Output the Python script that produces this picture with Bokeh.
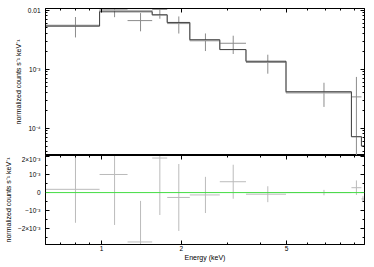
import numpy as np
from bokeh.plotting import figure
from bokeh.layouts import column
from bokeh.models import Range1d, FixedTicker, LogAxis, LinearAxis, CustomJSTickFormatter, Span
from bokeh.embed import file_html
from bokeh.resources import INLINE

# ---------------- data ----------------
# data bins (keV)
bin_lo = [0.614, 0.983, 1.254, 1.554, 1.771, 2.156, 2.799, 3.515, 4.98, 8.80]
bin_hi = [0.983, 1.254, 1.554, 1.771, 2.156, 2.799, 3.515, 4.98, 8.80, 9.60]
bin_ctr = [0.797, 1.12, 1.404, 1.661, 1.959, 2.47, 3.145, 4.25, 6.93, 9.19]
# normalized counts s^-1 keV^-1
counts = [5.55e-3, 1.04e-2, 6.65e-3, 1.03e-2, 5.92e-3, 3.03e-3, 2.75e-3, 1.30e-3, 4.1e-4, 3.4e-4]
counts_err = [2.1e-3, 2.8e-3, 2.27e-3, 3.15e-3, 1.9e-3, 1.0e-3, 0.94e-3, 0.46e-3, 1.8e-4, 4.0e-4]

# model steps
model_edges = [0.614, 0.983, 1.554, 1.771, 2.156, 2.799, 3.515, 4.98, 8.80, 9.60, 9.86]
model_a = [5.37e-3, 9.38e-3, 8.36e-3, 6.19e-3, 3.16e-3, 2.15e-3, 1.365e-3, 4.15e-4, 7.2e-5, 5.0e-5]
model_b = [5.37e-3, 9.9e-3, 8.2e-3, 6.1e-3, 3.06e-3, 2.15e-3, 1.34e-3, 3.95e-4, 7.2e-5, 5.0e-5]

# residuals
res_lo = bin_lo + [9.60]
res_hi = bin_hi + [9.86]
res_ctr = bin_ctr + [9.73]
resid = [0.18e-3, 1.0e-3, -2.73e-3, 1.91e-3, -0.27e-3, -0.13e-3, 0.6e-3, -0.09e-3, 0.0, 0.27e-3, -0.35e-3]
resid_err = [1.85e-3, 2.79e-3, 2.27e-3, 3.15e-3, 1.85e-3, 1.0e-3, 0.94e-3, 0.44e-3, 0.15e-3, 0.4e-3, 0.15e-3]

x_ticks = [1, 2, 5]
x_minor = [0.7, 0.8, 0.9, 3, 4, 6, 7, 8, 9]
y_ticks_top = [1e-4, 1e-3, 1e-2]
y_labels_top = {1e-4: "10\u207b\u2074", 1e-3: "10\u207b\u00b3", 1e-2: "0.01"}
y_ticks_res = [-2e-3, -1e-3, 0, 1e-3, 2e-3]
y_labels_res = {-2e-3: "\u22122\u00d710\u207b\u00b3", -1e-3: "\u221210\u207b\u00b3", 0: "0",
                1e-3: "10\u207b\u00b3", 2e-3: "2\u00d710\u207b\u00b3"}

FONT = "Liberation Sans"
ylab = "normalized counts s\u207b\u00b9 keV\u207b\u00b9"

xr = Range1d(0.614, 9.86)

def style_axis(ax, labels=True):
    ax.major_tick_in = 4
    ax.major_tick_out = 0
    ax.minor_tick_in = 2
    ax.minor_tick_out = 0
    ax.axis_line_color = "black"
    ax.major_tick_line_color = "black"
    ax.minor_tick_line_color = "black"
    ax.major_label_text_font = FONT
    ax.major_label_text_font_size = "6.5px"
    ax.major_label_text_color = "black"
    ax.axis_label_text_font = FONT
    ax.axis_label_text_font_style = "normal"
    ax.axis_label_text_font_size = "7px"
    ax.axis_label_text_color = "black"
    if labels:
        ax.major_label_standoff = 5
        ax.axis_label_standoff = 3
    else:
        ax.formatter = CustomJSTickFormatter(code="return ''")
        ax.major_label_standoff = 0

# ---------------- top panel ----------------
top = figure(frame_width=319, frame_height=147, x_axis_type="log", y_axis_type="log",
             x_range=xr, y_range=Range1d(3.46e-5, 0.01066),
             toolbar_location=None, output_backend="svg",
             min_border_left=45, min_border_right=2, min_border_top=8, min_border_bottom=0)
top.grid.visible = False
top.outline_line_color = "black"

xt = FixedTicker(ticks=x_ticks, minor_ticks=x_minor)
ymin = []
for e in [1e-5, 1e-4, 1e-3]:
    ymin += [k * e for k in range(2, 10)]
yt = FixedTicker(ticks=y_ticks_top, minor_ticks=ymin)

top.xaxis.visible = False
top.yaxis.ticker = yt
top.yaxis.major_label_overrides = y_labels_top
top.yaxis.axis_label = ylab
style_axis(top.yaxis[0])
ax_r = LogAxis(ticker=yt)
style_axis(ax_r, labels=False)
top.add_layout(ax_r, "right")
ax_t = LogAxis(ticker=xt)
style_axis(ax_t, labels=False)
top.add_layout(ax_t, "above")

cnt = np.array(counts)
cerr = np.array(counts_err)
top.segment(x0=bin_lo, x1=bin_hi, y0=cnt, y1=cnt, line_color="#8c8c8c", line_width=1)
top.segment(x0=bin_ctr, x1=bin_ctr, y0=np.maximum(cnt - cerr, 1e-7), y1=cnt + cerr,
            line_color="#8c8c8c", line_width=1)

top.step(x=model_edges, y=model_b + [model_b[-1]], mode="after", line_color="#aaaaaa", line_width=1)
top.step(x=model_edges, y=model_a + [model_a[-1]], mode="after", line_color="#444444", line_width=1)

# ---------------- residual panel ----------------
bot = figure(frame_width=319, frame_height=89, x_axis_type="log",
             x_range=xr, y_range=Range1d(-2.87e-3, 2.05e-3),
             toolbar_location=None, output_backend="svg",
             min_border_left=45, min_border_right=2, min_border_top=0, min_border_bottom=18)
bot.grid.visible = False
bot.outline_line_color = "black"
bot.xaxis.ticker = xt
bot.xaxis.axis_label = "Energy (keV)"
style_axis(bot.xaxis[0])
bot.xaxis.major_label_standoff = 1
bot.xaxis.axis_label_standoff = 0
ytr = FixedTicker(ticks=y_ticks_res, minor_ticks=[k * 5e-4 for k in range(-6, 5)])
bot.yaxis.ticker = ytr
bot.yaxis.major_label_overrides = y_labels_res
bot.yaxis.axis_label = ylab
style_axis(bot.yaxis[0])
ax_r2 = LinearAxis(ticker=ytr)
style_axis(ax_r2, labels=False)
bot.add_layout(ax_r2, "right")
ax_t2 = LogAxis(ticker=xt)
style_axis(ax_t2, labels=False)
bot.add_layout(ax_t2, "above")

bot.add_layout(Span(location=0, dimension="width", line_color="#44dd44", line_width=1))
r = np.array(resid)
re = np.array(resid_err)
bot.segment(x0=res_lo, x1=res_hi, y0=r, y1=r, line_color="#bbbbbb", line_width=1)
bot.segment(x0=res_ctr, x1=res_ctr, y0=r - re, y1=r + re, line_color="#bbbbbb", line_width=1)

layout = column(top, bot, spacing=0)
open("out.html", "w").write(file_html(layout, INLINE))
